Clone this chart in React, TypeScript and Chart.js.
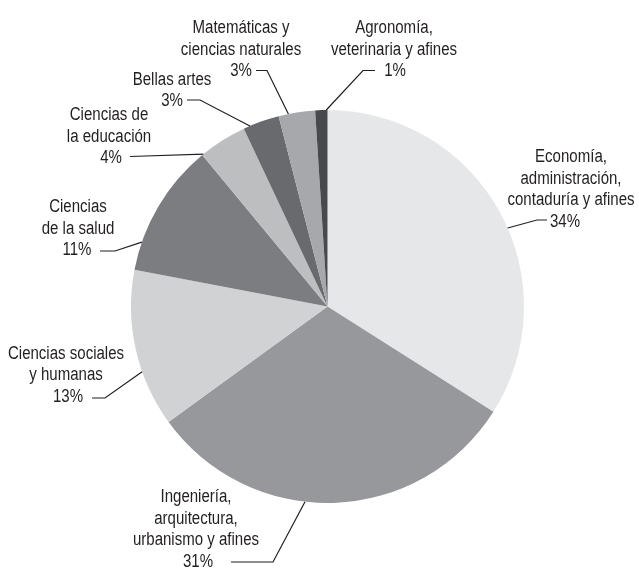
import React, { useEffect, useRef } from "react";
import { Chart, registerables } from "chart.js";

Chart.register(...registerables);

const categories: string[][] = [
  ["Economía,", "administración,", "contaduría y afines"],
  ["Ingeniería,", "arquitectura,", "urbanismo y afines"],
  ["Ciencias sociales", "y humanas"],
  ["Ciencias", "de la salud"],
  ["Ciencias de", "la educación"],
  ["Bellas artes"],
  ["Matemáticas y", "ciencias naturales"],
  ["Agronomía,", "veterinaria y afines"],
];
const values: number[] = [34, 31, 13, 11, 4, 3, 3, 1];
const colors: string[] = [
  "#e6e7e8",
  "#97989b",
  "#d1d2d4",
  "#7c7d80",
  "#bdbec0",
  "#696a6d",
  "#a7a8ab",
  "#48494c",
];

// label layout: text centre x, first baseline y, percent centre x, leader elbow, leader end x, fraction along slice
const labelLayout = [
  { tx: 571, ty: 162, px: 565, ex: 537, ey: 220, hx: 547, f: 0.543 },
  { tx: 196, ty: 502, px: 198, ex: 273, ey: 562, hx: 231, f: 0.575 },
  { tx: 66, ty: 358.5, px: 68, ex: 105, ey: 398, hx: 92, f: 0.355 },
  { tx: 78, ty: 212, px: 77, ex: 115, ey: 251, hx: 100, f: 0.21 },
  { tx: 109, ty: 120, px: 111, ex: 130, ey: 156.5, hx: 130, f: 0.03 },
  { tx: 172, ty: 84.5, px: 172, ex: 200, ey: 100, hx: 187, f: 0.18 },
  { tx: 241, ty: 33, px: 241, ex: 267, ey: 70.5, hx: 256, f: 0.27 },
  { tx: 394, ty: 33, px: 395, ex: 363, ey: 70.5, hx: 375, f: 0.9 },
];

const LINE_H = 21.7;
const FONT = '18px "Liberation Sans", Arial, sans-serif';
const REF_TEXT = "contaduría y afines";
const REF_WIDTH = 127;

const labelPlugin = {
  id: "pieLabels",
  afterDraw(chart: any) {
    const ctx = chart.ctx;
    const meta = chart.getDatasetMeta(0);
    ctx.save();
    ctx.font = FONT;
    const k = REF_WIDTH / ctx.measureText(REF_TEXT).width;
    ctx.fillStyle = "#231f20";
    ctx.strokeStyle = "#231f20";
    ctx.lineWidth = 1.2;
    ctx.textAlign = "center";
    ctx.textBaseline = "alphabetic";
    const draw = (t: string, x: number, y: number) => {
      ctx.save();
      ctx.translate(x, y);
      ctx.scale(k, 1);
      ctx.fillText(t, 0, 0);
      ctx.restore();
    };
    meta.data.forEach((arc: any, i: number) => {
      const L = labelLayout[i];
      const a = arc.startAngle + (arc.endAngle - arc.startAngle) * L.f;
      const sx = arc.x + Math.cos(a) * arc.outerRadius;
      const sy = arc.y + Math.sin(a) * arc.outerRadius;
      ctx.beginPath();
      ctx.moveTo(sx, sy);
      ctx.lineTo(L.ex, L.ey);
      ctx.lineTo(L.hx, L.ey);
      ctx.stroke();
      const lines = categories[i];
      lines.forEach((t, j) => draw(t, L.tx, L.ty + j * LINE_H));
      draw(values[i] + "%", L.px, L.ty + lines.length * LINE_H);
    });
    ctx.restore();
  },
};

export default function App() {
  const ref = useRef<HTMLCanvasElement | null>(null);
  useEffect(() => {
    document.body.style.margin = "0";
    const chart = new Chart(ref.current as HTMLCanvasElement, {
      type: "pie",
      data: {
        labels: categories.map((c) => c.join(" ")),
        datasets: [
          {
            data: values,
            backgroundColor: colors,
            borderWidth: 0,
          },
        ],
      },
      options: {
        animation: false,
        responsive: false,
        layout: { padding: { left: 131, right: 115, top: 110, bottom: 65 } },
        plugins: { legend: { display: false }, tooltip: { enabled: false } },
      },
      plugins: [labelPlugin],
    });
    return () => chart.destroy();
  }, []);
  return (
    <div style={{ width: 639, height: 568, background: "#fff" }}>
      <canvas ref={ref} width={639} height={568} style={{ display: "block" }} />
    </div>
  );
}
